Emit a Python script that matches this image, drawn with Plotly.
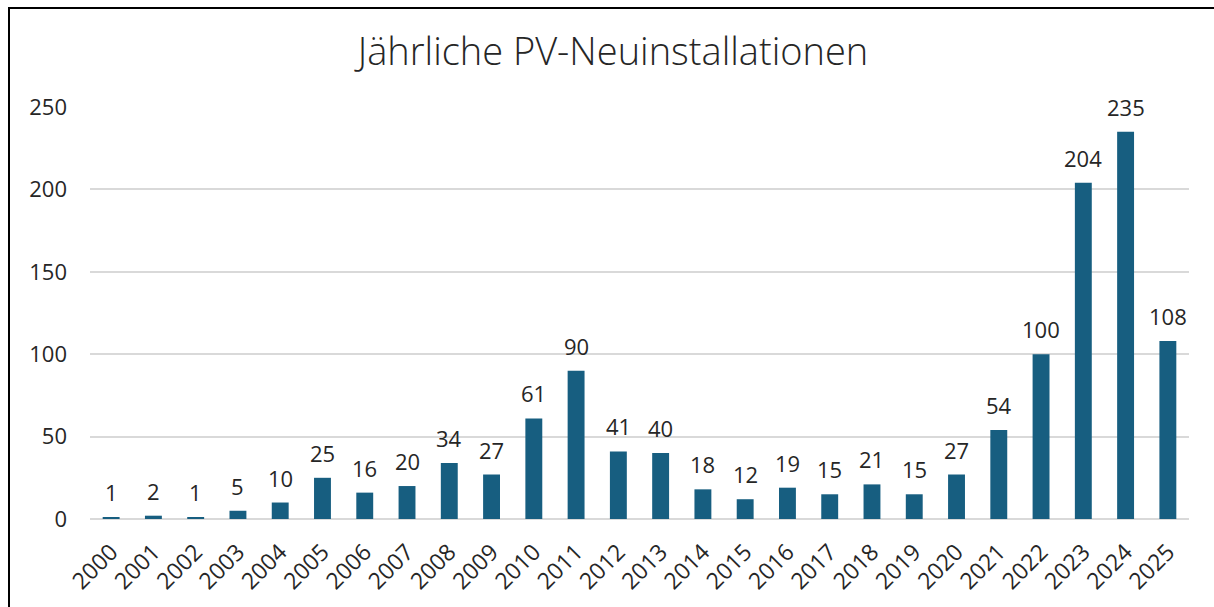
import plotly.graph_objects as go

years = [str(y) for y in range(2000, 2026)]
values = [1, 2, 1, 5, 10, 25, 16, 20, 34, 27, 61, 90, 41, 40, 18, 12, 19, 15, 21, 15, 27, 54, 100, 204, 235, 108]
y_ticks = [0, 50, 100, 150, 200, 250]
title_text = "Jährliche PV-Neuinstallationen"

W, H = 1214, 607
ml, mr, mt, mb = 90, 25, 107, 88
pw = W - ml - mr
ph = H - mt - mb
TXT = "#262626"
FONT = "Open Sans"

def px_to_paper_x(px):
    return (px - ml) / pw

def px_to_paper_y(py):
    return (H - mb - py) / ph

fig = go.Figure()
fig.add_trace(go.Bar(
    x=years, y=values,
    marker=dict(color="#175E80", line=dict(width=0)),
    width=0.4,
    hoverinfo="x+y",
))

# value labels (category index positions on the category axis)
for i, v in enumerate(values):
    fig.add_annotation(x=i, y=v, text=str(v), showarrow=False,
                       xanchor="center", yanchor="middle", yshift=25,
                       font=dict(size=22, color=TXT, family=FONT))

fx0 = px_to_paper_x(9)
fx1 = px_to_paper_x(W + 5)
fy0 = px_to_paper_y(H + 5)
fy1 = px_to_paper_y(8)
fig.add_shape(type="path", xref="paper", yref="paper",
              path=f"M {fx0} {fy0} L {fx0} {fy1} L {fx1} {fy1}",
              line=dict(color="black", width=2))

fig.update_layout(
    width=W, height=H,
    margin=dict(l=ml, r=mr, t=mt, b=mb, autoexpand=False),
    paper_bgcolor="white", plot_bgcolor="white",
    font=dict(family=FONT, color=TXT),
    title=dict(text=title_text, x=0.505, xanchor="center", y=1 - 52 / H, yanchor="middle",
               font=dict(size=38, color=TXT, family=FONT, weight=300)),
    showlegend=False,
    xaxis=dict(type="category", range=[-0.5, len(years) - 0.5],
               tickangle=-45, tickfont=dict(size=23, color=TXT), showgrid=False,
               showline=False, ticks="", ticklen=0, ticklabelstandoff=14, automargin=False),
    yaxis=dict(range=[0, 250], tickvals=y_ticks, tickfont=dict(size=22, color=TXT),
               showgrid=True, gridcolor="#D9D9D9", gridwidth=2,
               zeroline=True, zerolinecolor="#D9D9D9", zerolinewidth=2,
               ticks="", ticklabelstandoff=22, showline=False, automargin=False),
)

fig.write_html("out.html", config={"displayModeBar": False},
               post_script="document.body.style.margin='0';document.body.style.overflow='hidden';")
